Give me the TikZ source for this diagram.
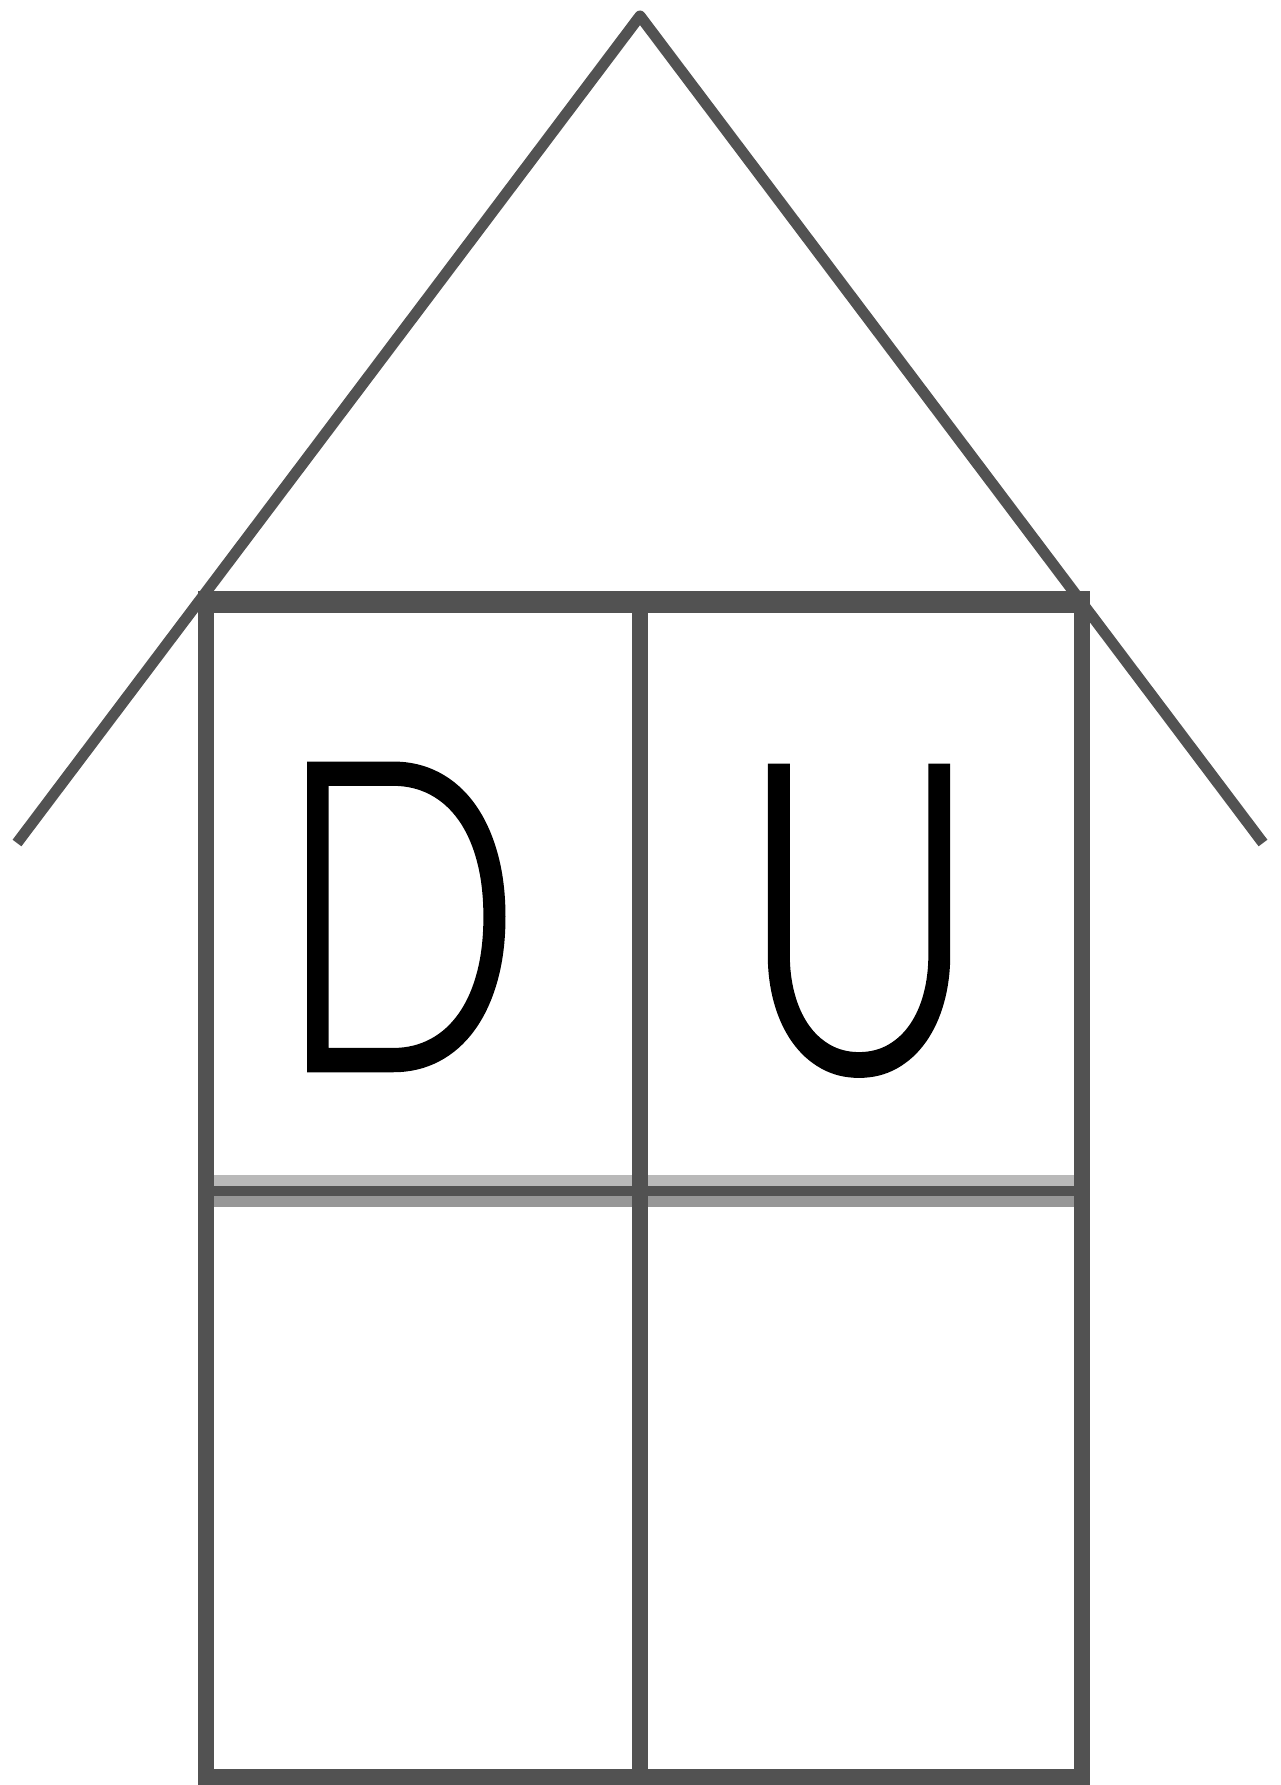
\documentclass[tikz,border=0pt]{standalone}
\usepackage{fontspec}
\newfontfamily\letterfont{Lato Light}[FakeBold=1.5]
\definecolor{linegray}{HTML}{525252}
\definecolor{bandlight}{HTML}{B9B9B9}
\definecolor{bandmid}{HTML}{979797}
\tikzset{
  wall/.style={draw=linegray, line width=16pt},
  roofline/.style={draw=linegray, line width=11pt, line join=round},
  letter/.style={inner sep=0pt, outer sep=0pt, anchor=base, text=black,
    font=\letterfont\fontsize{430}{430}\selectfont},
}
\begin{document}
\begin{tikzpicture}[x=1pt, y=-1pt]
\useasboundingbox (0,0) rectangle (1281,1785);
% roof
\coordinate (roofL) at (17,843);
\coordinate (apex) at (640,16);
\coordinate (roofR) at (1263,843);
% divider bands
\fill[bandlight] (214,1175) rectangle (1074,1186);
\fill[linegray] (214,1186) rectangle (1074,1196);
\fill[bandmid] (214,1196) rectangle (1074,1207);
% box
\coordinate (tl) at (206,602);
\coordinate (tr) at (1082,602);
\coordinate (bl) at (206,1777);
\coordinate (br) at (1082,1777);
\coordinate (tm) at (640,602);
\coordinate (bm) at (640,1777);
\draw[wall] (tl) -- (bl) -- (br) -- (tr);
\draw[draw=linegray, line width=22pt] ([xshift=-8pt]tl) -- ([xshift=8pt]tr);
\draw[wall] (tm) -- (bm);
\draw[roofline] (roofL) -- (apex) -- (roofR);
% letters
\node[letter] (D) at (399,1069) {\scalebox{0.755}[1]{D}};
\node[letter] (U) at (859,1071) {\scalebox{0.77}[1]{U}};
\end{tikzpicture}
\end{document}
